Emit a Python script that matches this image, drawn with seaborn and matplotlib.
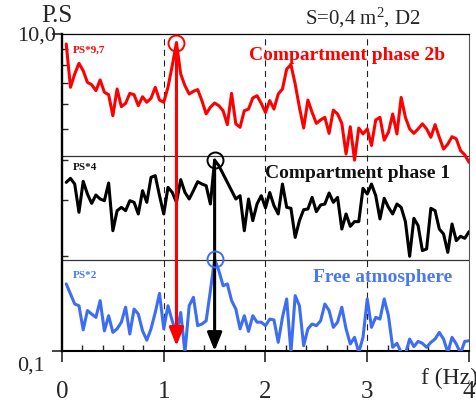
import numpy as np
import pandas as pd
import matplotlib
matplotlib.use("Agg")
import matplotlib.pyplot as plt
import seaborn as sns
from matplotlib.ticker import FixedLocator, NullFormatter

# Frequency bins of the spectra (resolution 1/24 Hz)
freq = np.arange(1, 97) / 24.0

# Scaled power spectra (PS * factor)
ps_phase_2b = [
    8.65, 4.61, 5.59, 6.53, 5.87, 4.95, 4.79, 4.39, 5.13, 4.29,
    4.14, 3.05, 4.50, 3.48, 3.65, 4.22, 4.14, 3.53, 4.02, 3.71,
    3.93, 4.61, 3.83, 3.71, 4.61, 6.31, 8.80, 5.59, 4.72, 4.18,
    4.35, 4.46, 3.80, 3.13, 3.45, 3.67, 3.53, 3.28, 2.68, 4.22,
    2.71, 2.58, 3.28, 3.36, 3.95, 4.08, 3.65, 3.20, 3.80, 3.36,
    4.18, 4.50, 6.01, 6.40, 4.84, 3.45, 2.55, 3.83, 3.20, 2.73,
    2.87, 2.98, 2.36, 3.31, 3.13, 2.73, 1.75, 2.60, 1.60, 2.55,
    2.34, 2.52, 1.98, 2.87, 2.98, 2.14, 2.40, 3.13, 2.34, 3.98,
    2.98, 2.52, 2.36, 2.52, 2.71, 2.52, 2.23, 2.68, 2.23, 1.88,
    2.02, 2.25, 2.18, 1.84, 1.73, 1.55,
]
ps_phase_1 = [
    1.159, 1.228, 1.131, 0.750, 1.176, 0.978, 0.854, 0.964, 0.910, 0.888,
    1.148, 0.574, 0.768, 0.806, 0.768, 0.888, 0.867, 0.732, 1.027, 0.867,
    1.246, 1.277, 0.955, 0.732, 1.078, 1.002, 0.867, 1.205, 1.002, 0.910,
    1.027, 1.170, 1.131, 1.104, 0.846, 1.600, 1.476, 1.308, 1.159, 1.027,
    0.910, 0.955, 0.574, 0.910, 0.664, 0.846, 0.955, 0.800, 1.000, 0.826,
    0.732, 1.131, 0.806, 0.795, 0.521, 0.664, 0.779, 0.787, 0.932, 0.757,
    0.834, 0.846, 0.993, 0.867, 0.932, 0.588, 0.732, 0.612, 0.655, 0.655,
    1.062, 0.978, 1.131, 0.955, 0.681, 0.919, 0.806, 0.732, 0.846, 0.806,
    0.655, 0.396, 0.687, 0.618, 0.430, 0.440, 0.795, 0.768, 0.588, 0.547,
    0.419, 0.633, 0.497, 0.529, 0.514, 0.566,
]
ps_free = [
    0.265, 0.229, 0.198, 0.193, 0.136, 0.180, 0.171, 0.163, 0.208, 0.134,
    0.167, 0.131, 0.138, 0.152, 0.189, 0.128, 0.184, 0.171, 0.134, 0.117,
    0.138, 0.175, 0.231, 0.138, 0.193, 0.155, 0.128, 0.175, 0.098, 0.193,
    0.218, 0.1445, 0.148, 0.155, 0.240, 0.380, 0.321, 0.258, 0.265, 0.208,
    0.184, 0.138, 0.167, 0.133, 0.167, 0.152, 0.152, 0.1445, 0.159, 0.157,
    0.1134, 0.163, 0.213, 0.098, 0.2235, 0.193, 0.108, 0.138, 0.148, 0.1445,
    0.155, 0.198, 0.180, 0.141, 0.152, 0.189, 0.138, 0.1107, 0.122, 0.098,
    0.122, 0.213, 0.141, 0.163, 0.159, 0.213, 0.167, 0.1055, 0.1118, 0.098,
    0.0957, 0.119, 0.1065, 0.115, 0.1118, 0.1055, 0.1134, 0.119, 0.131, 0.119,
    0.098, 0.122, 0.1107, 0.0967, 0.115, 0.116,
]

series_names = ["Compartment phase 2b", "Compartment phase 1", "Free atmosphere"]
scale_labels = ["PS*9,7", "PS*4", "PS*2"]
peak_freqs = [1.125, 1.5, 1.5]
arrow_ends = [0.1076, 0.1, None]
colors = ["#ff0000", "#000000", "#3d6df2"]
separators = [1.7, 0.375]
x_ticks = [0, 1, 2, 3, 4]
y_range = (0.1, 10.0)
y_tick_labels = ["0,1", "10,0"]

sns.set_style("white")
plt.rcParams["font.family"] = ["Liberation Serif", "DejaVu Serif"]
plt.rcParams["mathtext.fontset"] = "custom"
plt.rcParams["mathtext.rm"] = "Liberation Serif"
plt.rcParams["mathtext.it"] = "Liberation Serif:italic"

W, H = 477, 406
fig = plt.figure(figsize=(W / 100, H / 100), dpi=100)
ax = fig.add_axes([62 / W, 1 - 352 / H, 407 / W, 317 / H])


def px(x, y):
    return x / W, 1 - y / H


all_values = [ps_phase_2b, ps_phase_1, ps_free]
df = pd.concat(
    [pd.DataFrame({"f": freq, "PS": vals, "series": name})
     for name, vals in zip(series_names, all_values)],
    ignore_index=True,
)

ax.set_yscale("log")
sns.lineplot(data=df, x="f", y="PS", hue="series",
             palette=dict(zip(series_names, colors)),
             estimator=None, sort=False, lw=2.2, legend=False, ax=ax,
             zorder=3)

# panel separators and reference frequencies
for s in separators:
    ax.axhline(s, color="#333333", lw=0.9, zorder=1)
for xv in x_ticks[1:-1]:
    ax.axvline(xv, color="#222222", lw=0.8, ls=(0, (5.5, 4)), zorder=1)

# peak markers and arrows
for vals, pf, end, col in zip(all_values, peak_freqs, arrow_ends, colors):
    i = int(np.argmin(np.abs(freq - pf)))
    pv = vals[i]
    ax.plot([freq[i]], [pv], "o", mfc="none", mec=col, ms=11.5, mew=1.4,
            zorder=6)
    if end is not None:
        ax.annotate("", xy=(freq[i], end), xytext=(freq[i], pv),
                    arrowprops=dict(arrowstyle="-|>,head_length=0.55,head_width=0.22",
                                    color=col, lw=2.2, mutation_scale=20,
                                    shrinkA=0, shrinkB=0),
                    zorder=5)

ax.set_xlim(0, 4)
ax.set_ylim(*y_range)
ax.set_xlabel("")
ax.set_ylabel("")

ax.set_xticks(x_ticks)
ax.set_xticklabels([str(t) for t in x_ticks], fontsize=18)
ax.xaxis.set_minor_locator(FixedLocator(np.arange(0.2, 4.0, 0.2)))
ax.tick_params(axis="x", which="major", direction="out", length=8,
               width=1.2, pad=13, bottom=True)
ax.tick_params(axis="x", which="minor", direction="in", length=4,
               width=1.0, bottom=True)

ax.yaxis.set_major_locator(FixedLocator(list(y_range)))
ax.yaxis.set_minor_locator(FixedLocator([0.1 * k * k for k in range(2, 10)]))
ax.yaxis.set_major_formatter(NullFormatter())
ax.yaxis.set_minor_formatter(NullFormatter())
ax.tick_params(axis="y", which="major", direction="out", length=7,
               width=1.2, left=True)
ax.tick_params(axis="y", which="minor", direction="in", length=4,
               width=1.0, left=True)

for side, lw, col in [("left", 1.7, "black"), ("bottom", 1.5, "black"),
                      ("top", 0.9, "black"), ("right", 0.8, "#555555")]:
    ax.spines[side].set_linewidth(lw)
    ax.spines[side].set_color(col)
    ax.spines[side].set_visible(True)

# axis annotations
fig.text(*px(57, 16), "P.S", fontsize=18, ha="center", va="center")
fig.text(*px(56, 36), y_tick_labels[1], fontsize=16, ha="right", va="center")
fig.text(*px(45, 366), y_tick_labels[0], fontsize=16, ha="right", va="center")
fig.text(*px(421, 378), "f (Hz)", fontsize=17, ha="left", va="center")
fig.text(*px(363, 18), "S=0,4 m$^{2}$, D2", fontsize=15, ha="center",
         va="center")

# series labels
label_pos = [(347, 56), (358, 174), (383, 278)]
scale_pos = [(73, 50), (73, 168), (73, 276)]
label_colors = ["#ff0000", "#111111", "#4a78f0"]
for name, lab, (lx, ly), (sx, sy), col in zip(series_names, scale_labels,
                                              label_pos, scale_pos,
                                              label_colors):
    fig.text(*px(lx, ly), name, fontsize=14, fontweight="bold", color=col,
             ha="center", va="center", zorder=7)
    fig.text(*px(sx, sy), lab, fontsize=8, fontweight="bold", color=col,
             ha="left", va="center", zorder=7)

fig.savefig("out.png", dpi=100)
